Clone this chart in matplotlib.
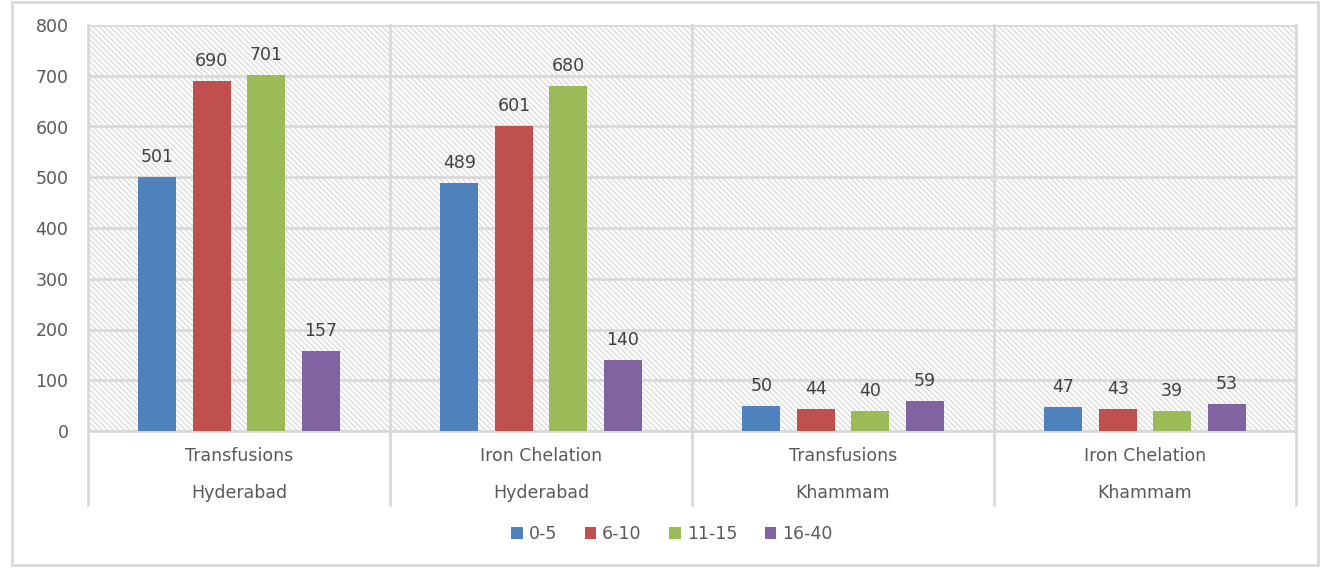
# Grouped bars by age group, Hyderabad / Khammam
import matplotlib
matplotlib.use('Agg')
import matplotlib.pyplot as plt
import matplotlib.transforms as mtransforms
from matplotlib.patches import Rectangle
import numpy as np

plt.rcParams['font.family'] = ['DejaVu Sans']

# Data
treatments = ['Transfusions', 'Iron Chelation', 'Transfusions', 'Iron Chelation']
districts = ['Hyderabad', 'Hyderabad', 'Khammam', 'Khammam']
age_groups = ['0-5', '6-10', '11-15', '16-40']
age_0_5 = [501, 489, 50, 47]
age_6_10 = [690, 601, 44, 43]
age_11_15 = [701, 680, 40, 39]
age_16_40 = [157, 140, 59, 53]
series = [age_0_5, age_6_10, age_11_15, age_16_40]
colors = ['#4f81bd', '#c0504d', '#9bbb59', '#8064a2']

grid_col = '#d9d9d9'
text_col = '#595959'
fs = 12.5

fig = plt.figure(figsize=(13.24, 5.72), dpi=100)
ax = fig.add_axes([88/1324, 1-431/572, (1296-88)/1324, (431-25)/572])

# hatched plot background
bg = Rectangle((0, 0), 1, 1, transform=ax.transAxes, facecolor='white',
               edgecolor='#dcdcdc', hatch='\\\\\\\\\\\\', linewidth=0, zorder=0)
ax.add_patch(bg)

x = np.arange(len(treatments))
width = 0.126
step = 0.18
for i, (vals, c, lab) in enumerate(zip(series, colors, age_groups)):
    pos = x + (i - 1.5) * step
    bars = ax.bar(pos, vals, width, color=c, label=lab, zorder=3)
    for b, v in zip(bars, vals):
        ax.annotate(str(v), (b.get_x() + b.get_width()/2, v), xytext=(0, 8),
                    textcoords='offset points', ha='center', va='bottom',
                    fontsize=fs, color='#404040')

ax.set_xlim(-0.5, len(treatments) - 0.5)
ax.set_ylim(0, 800)
ax.set_yticks(np.arange(0, 801, 100))
ax.tick_params(axis='y', length=0, labelsize=fs, labelcolor=text_col, pad=14)
ax.set_xticks([])
ax.grid(axis='y', color=grid_col, linewidth=2, zorder=1)
ax.set_axisbelow(True)
for s in ['top', 'right', 'left']:
    ax.spines[s].set_visible(False)
ax.spines['bottom'].set_color(grid_col)
ax.spines['bottom'].set_linewidth(2)

# group separators and two-level category labels
trans = mtransforms.blended_transform_factory(ax.transData, ax.transAxes)
bot = -(505-431)/406
for b in np.arange(-0.5, len(treatments), 1.0):
    ax.plot([b, b], [bot, 1], transform=trans, color=grid_col, linewidth=2,
            clip_on=False, zorder=2)
for xi, t, d in zip(x, treatments, districts):
    ax.text(xi, -(456-431)/406, t, transform=trans, ha='center', va='center',
            fontsize=fs, color=text_col)
    ax.text(xi, -(493-431)/406, d, transform=trans, ha='center', va='center',
            fontsize=fs, color=text_col)

fig.legend(loc='center', bbox_to_anchor=(672/1324, 1-534/572), ncol=4,
           frameon=False, fontsize=fs, handlelength=0.65, handleheight=0.65,
           handletextpad=0.35, columnspacing=1.6, labelcolor=text_col)

# outer chart border
fig.patches.append(Rectangle((12/1324, 1-565/572), (1318-12)/1324, (565-2)/572,
                             transform=fig.transFigure, fill=False,
                             edgecolor=grid_col, linewidth=2))

plt.savefig('out.png', dpi=100)
